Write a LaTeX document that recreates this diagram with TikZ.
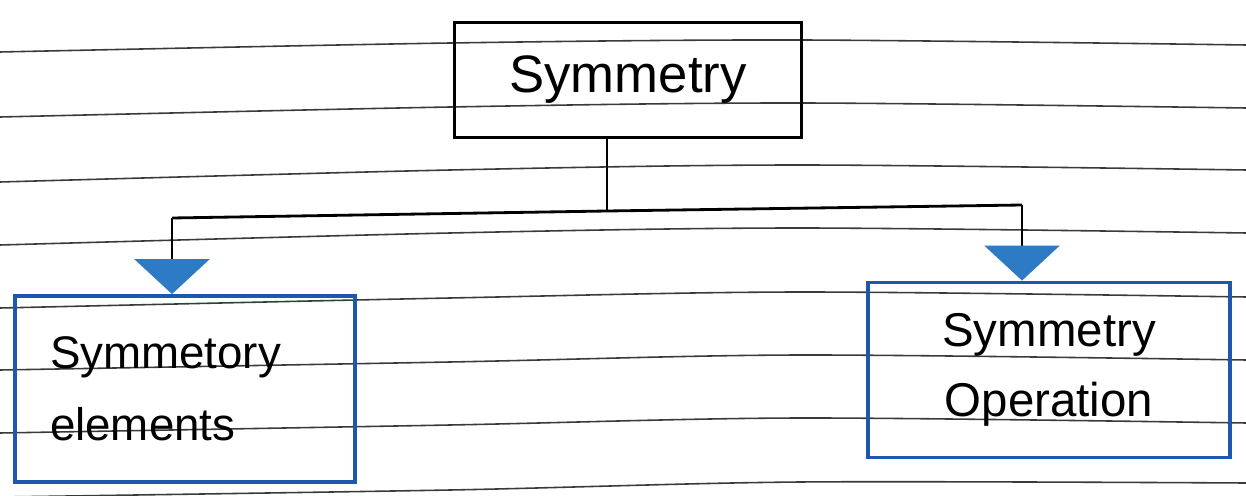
\documentclass[tikz,border=0pt]{standalone}
\usepackage{fontspec}
\setmainfont{Liberation Sans}
\usetikzlibrary{arrows.meta,calc}
\definecolor{penblue}{HTML}{1E58AE}
\definecolor{tipblue}{HTML}{2C7BC4}
\definecolor{ruleink}{HTML}{3A3A3A}
\begin{document}
\begin{tikzpicture}[x=0.02cm,y=-0.02cm,
  ruleline/.style={ruleink,line width=0.9pt},
  topbox/.style={draw=black,line width=2pt,minimum width=6.94cm,minimum height=2.3cm,inner sep=0pt,
    font=\fontsize{30}{36}\selectfont},
  leftbox/.style={draw=penblue,line width=2.2pt,minimum width=6.8cm,minimum height=3.72cm,
    inner xsep=0.7cm,text width=5.4cm,align=left,font=\fontsize{26}{41}\selectfont},
  rightbox/.style={draw=penblue,line width=2.2pt,minimum width=7.24cm,minimum height=3.5cm,
    inner sep=0pt,align=center,font=\fontsize{27}{40}\selectfont},
  link/.style={draw=black,line width=1.6pt},
  arrowed/.style={-{Triangle[width=1.5cm,length=0.7cm,fill=tipblue,color=tipblue]}}]
\useasboundingbox (0,0) rectangle (1246,496);
% ruled paper
\foreach \a/\b/\c/\d in {52/43/40/45,117/107/103/108,182/170/165/170,245/233/228/233,
  308/298/292/297,370/362/355/360,433/425/418/423,497/490/482/483}
  \draw[ruleline] plot[smooth] coordinates {(0,\a) (450,\b) (800,\c) (1246,\d)};
% boxes
\node[topbox] (top) at (628,80) {Symmetry};
\node[leftbox] (left) at (185,389) {Symmetory\\elements};
\node[rightbox] (right) at (1049,370) {Symmetry\\Operation};
% connectors
\coordinate (j) at (607,211);
\coordinate (jl) at (172,218);
\coordinate (jr) at (1022,205);
\draw[link] (top.south -| j) -- (j);
\draw[link] (jl) -- (j) -- (jr);
\draw[link,arrowed] (jl) -- (jl |- left.north);
\draw[link,arrowed] (jr) -- (jr |- right.north);
\end{tikzpicture}
\end{document}
